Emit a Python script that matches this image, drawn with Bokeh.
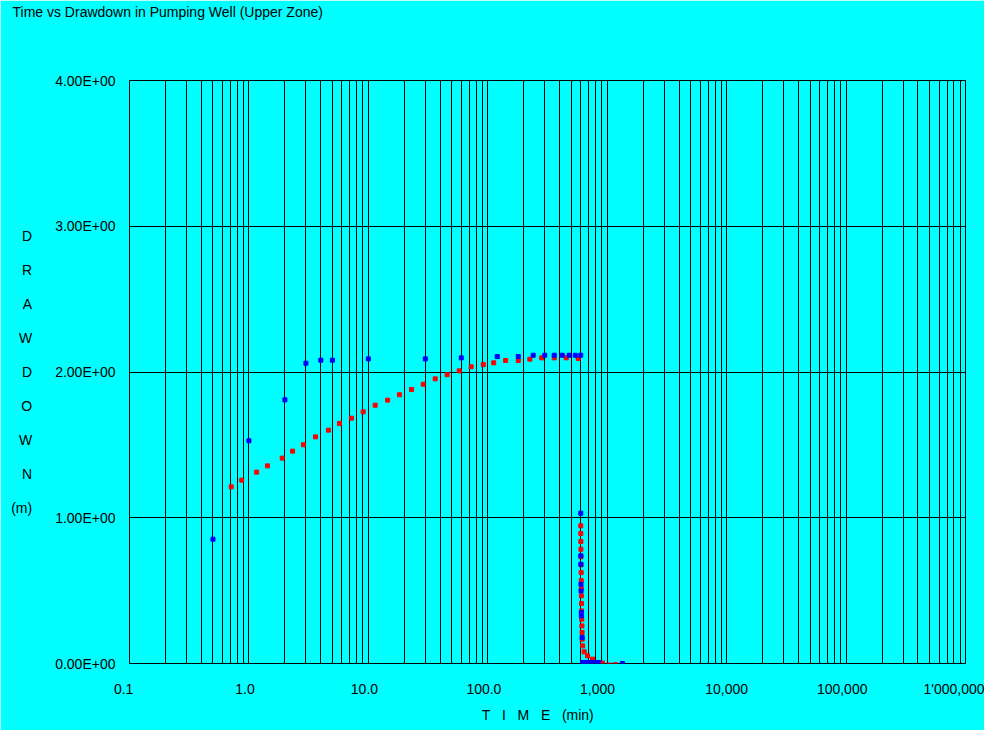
from bokeh.plotting import figure
from bokeh.models import Range1d, FixedTicker, Title
from bokeh.embed import file_html
from bokeh.resources import INLINE

# ---------------- data ----------------
# pumping phase, observed drawdown (blue)
pump_obs_t = [0.5, 1.0, 2.0, 3.0, 4.0, 5.0, 10.0, 30.0, 60.0, 120.0, 180.0,
              240.0, 300.0, 360.0, 420.0, 480.0, 540.0, 600.0]
pump_obs_s = [0.853, 1.528, 1.809, 2.060, 2.081, 2.081, 2.090, 2.090, 2.097,
              2.106, 2.106, 2.115, 2.115, 2.115, 2.115, 2.115, 2.115, 2.115]

# pumping phase, calculated drawdown (red)
pump_calc_t = [0.71, 0.87, 1.16, 1.43, 1.9, 2.32, 2.86, 3.61, 4.63, 5.73, 7.22,
               9.05, 11.4, 14.5, 18.2, 23.0, 28.8, 36.3, 45.7, 57.6, 72.6, 91.6,
               112.0, 141.0, 180.0, 225.0, 283.0, 360.0, 454.0, 571.0]
pump_calc_s = [1.212, 1.258, 1.313, 1.356, 1.409, 1.457, 1.501, 1.555, 1.601,
               1.647, 1.683, 1.727, 1.772, 1.807, 1.844, 1.880, 1.916, 1.953,
               1.981, 2.008, 2.036, 2.051, 2.063, 2.079, 2.079, 2.088, 2.097,
               2.097, 2.097, 2.093]

# recovery phase, calculated (red)
rec_calc_t = [600.5, 601.0, 601.5, 602.0, 603.0, 604.0, 605.0, 606.0, 607.0,
              608.0, 609.0, 610.0, 612.0, 614.0, 616.0, 618.0, 622.0, 641.0,
              684.0, 753.0, 914.0, 1040.0, 1170.0]
rec_calc_s = [0.945, 0.892, 0.837, 0.784, 0.732, 0.677, 0.624, 0.569, 0.515,
              0.464, 0.412, 0.361, 0.304, 0.258, 0.213, 0.167, 0.121, 0.080,
              0.053, 0.030, 0.003, -0.010, -0.008]

# recovery phase, observed (blue)
rec_obs_t = [600.5, 601.5, 602.0, 603.0, 604.0, 607.0, 608.0, 617.0, 620.0,
             640.0, 665.0, 700.0, 740.0, 790.0, 850.0, 1340.0]
rec_obs_s = [1.031, 0.739, 0.681, 0.544, 0.498, 0.350, 0.327, 0.178, 0.007,
             0.007, 0.007, 0.007, 0.007, 0.007, 0.007, 0.0]

x_ticks = [0.1, 1.0, 10.0, 100.0, 1000.0, 10000.0, 100000.0, 1000000.0]
x_tick_labels = ["0.1", "1.0", "10.0", "100.0", "1,000", "10,000", "100,000", "1'000,000"]
y_ticks = [0, 1, 2, 3, 4]
y_tick_labels = ["0.00E+00", "1.00E+00", "2.00E+00", "3.00E+00", "4.00E+00"]

title_text = "Time vs Drawdown in Pumping Well (Upper Zone)"
y_letters = ["D", "R", "A", "W", "D", "O", "W", "N", "(m)"]
x_title_parts = ["T", "I", "M", "E", "(min)"]

# ---------------- layout / style ----------------
FONT = "Liberation Sans"
NB = "\u00a0"
W, H = 984, 730
FL, FR, FT, FB = 129, 965, 80, 663   # frame edges inside the figure
CYAN = "#00ffff"

# trailing non-breaking spaces nudge each x tick label slightly left
x_label_pad = [3, 2, 2, 2, 5, 0, 2, 0]

p = figure(width=W, height=H, x_axis_type="log",
           x_range=Range1d(0.1, 1e6), y_range=Range1d(0.0, 4.0),
           output_backend="svg", toolbar_location=None, title=None,
           min_border_left=FL, min_border_right=W - FR,
           min_border_top=FT, min_border_bottom=H - FB)

p.background_fill_color = CYAN
p.border_fill_color = CYAN
p.outline_line_color = "black"
p.outline_line_width = 1

# grid
grid_x = [m * 10.0 ** k for k in range(-1, 6) for m in range(1, 10)] + [1e6]
p.xgrid.ticker = FixedTicker(ticks=grid_x)
p.ygrid.ticker = FixedTicker(ticks=y_ticks)
for g in (p.xgrid, p.ygrid):
    g.grid_line_color = "black"
    g.grid_line_alpha = 1.0
    g.grid_line_width = 1

# axes
p.xaxis.ticker = FixedTicker(ticks=x_ticks)
p.xaxis.major_label_overrides = {t: lab + NB * n for t, lab, n in
                                 zip(x_ticks, x_tick_labels, x_label_pad)}
p.yaxis.ticker = FixedTicker(ticks=y_ticks)
p.yaxis.major_label_overrides = dict(zip(y_ticks, y_tick_labels))
for ax in (p.xaxis, p.yaxis):
    ax.axis_line_color = None
    ax.major_tick_line_color = None
    ax.minor_tick_line_color = None
    ax.major_tick_out = 0
    ax.major_tick_in = 0
    ax.major_label_text_font = FONT
    ax.major_label_text_font_size = "14px"
    ax.major_label_text_color = "black"
    ax.axis_label_text_font = FONT
    ax.axis_label_text_font_size = "14px"
    ax.axis_label_text_font_style = "normal"
    ax.axis_label_text_color = "black"
p.xaxis.major_label_standoff = 17
p.yaxis.major_label_standoff = 14

# axis titles
p.yaxis.axis_label = "\n".join(y_letters)
p.yaxis.axis_label_orientation = "horizontal"
p.yaxis.axis_label_text_align = "center"
p.yaxis.axis_label_text_line_height = 2.13
p.yaxis.axis_label_standoff = 20
p.xaxis.axis_label = (NB * 3).join(x_title_parts) + NB * 5
p.xaxis.axis_label_standoff = 7

# spacer (nearest the frame) and group-box caption (outermost)
p.add_layout(Title(text=NB, standoff=43, text_font=FONT, text_font_size="14px",
                   text_color=CYAN), "above")
p.add_layout(Title(text=title_text, align="left", offset=-117,
                   text_font=FONT, text_font_size="14px",
                   text_font_style="normal", text_color="black",
                   standoff=0), "above")

# data points (calculated first, observed on top)
p.scatter(pump_calc_t, pump_calc_s, marker="square", size=4, fill_color="red",
          line_color="red", line_width=1)
p.scatter(rec_calc_t, rec_calc_s, marker="square", size=4, fill_color="red",
          line_color="red", line_width=1)
p.scatter(pump_obs_t, pump_obs_s, marker="square", size=4, fill_color="blue",
          line_color="blue", line_width=1)
p.scatter(rec_obs_t, rec_obs_s, marker="square", size=4, fill_color="blue",
          line_color="blue", line_width=1)

open("out.html", "w").write(file_html(p, INLINE))
